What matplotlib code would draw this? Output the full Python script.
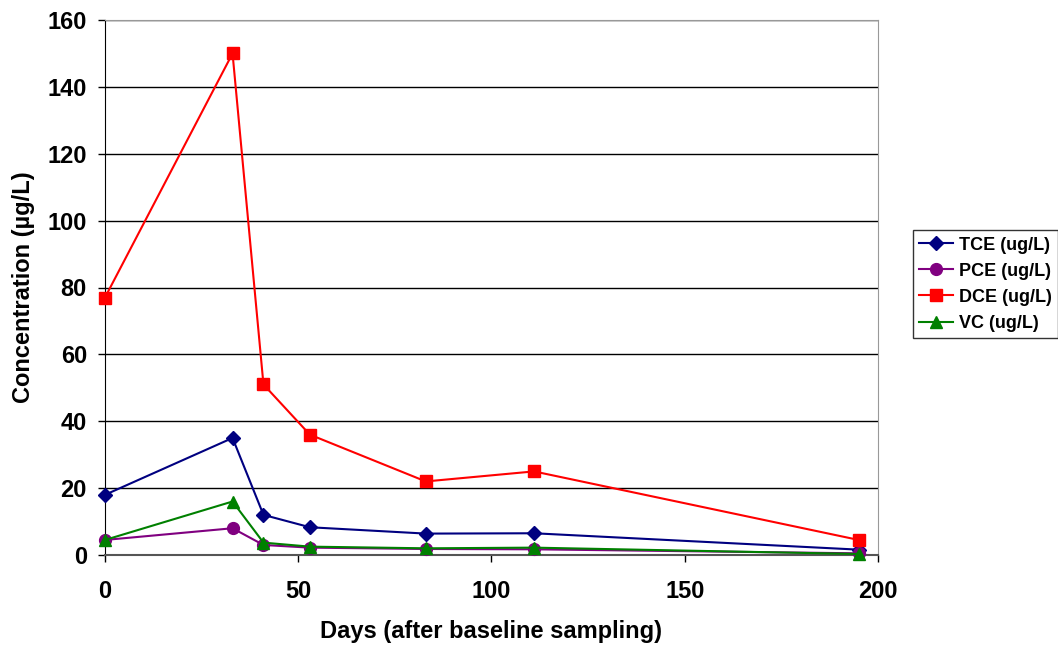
import matplotlib.pyplot as plt

plt.rcParams['font.family'] = ['Liberation Sans', 'DejaVu Sans']
plt.rcParams['font.weight'] = 'bold'

# sampling days and concentrations (ug/L)
days = [0, 33, 41, 53, 83, 111, 195]
tce = [18, 35, 12, 8.3, 6.4, 6.5, 1.6]
pce = [4.5, 8, 3, 2.2, 1.8, 1.7, 0.5]
dce = [77, 150, 51, 36, 22, 25, 4.5]
vc = [4.5, 16, 3.7, 2.5, 2.0, 2.2, 0.3]

series = [
    ("TCE (ug/L)", tce, "#000080", "D", 7.5),
    ("PCE (ug/L)", pce, "#800080", "o", 8.5),
    ("DCE (ug/L)", dce, "#FF0000", "s", 9),
    ("VC (ug/L)", vc, "#008000", "^", 9),
]

fig = plt.figure(figsize=(10.58, 6.45), dpi=100)
ax = fig.add_axes([105/1058, 1 - 555/645, (878-105)/1058, (555-20)/645])

for name, vals, col, mk, ms in series:
    ax.plot(days, vals, color=col, marker=mk, markersize=ms, lw=1.5,
            label=name, clip_on=False, zorder=3)

ax.set_xlim(0, 200)
ax.set_ylim(0, 160)
ax.set_xticks(range(0, 201, 50))
ax.set_yticks(range(0, 161, 20))
ax.yaxis.grid(True, color='black', lw=1)
ax.set_axisbelow(True)
ax.tick_params(labelsize=17, length=5, width=1, direction='out')
ax.tick_params(axis='x', pad=13)
ax.tick_params(axis='y', pad=8)

for s in ['top', 'right']:
    ax.spines[s].set_color('#999999')
ax.spines['left'].set_color('black')
ax.spines['bottom'].set_color('#555555')
ax.spines['bottom'].set_linewidth(1.5)

ax.set_xlabel("Days (after baseline sampling)", fontsize=17, fontweight='bold', labelpad=12)
ax.set_ylabel("Concentration (µg/L)", fontsize=17, fontweight='bold', labelpad=9)

leg = ax.legend(loc='center left', bbox_to_anchor=(1.045, 0.506), fontsize=13,
                frameon=True, fancybox=False, edgecolor='black',
                handlelength=1.9, handletextpad=0.3, borderpad=0.35,
                labelspacing=0.5, borderaxespad=0)
leg.get_frame().set_linewidth(1)
for t in leg.get_texts():
    t.set_fontweight('bold')

fig.savefig('out.png', dpi=100)
